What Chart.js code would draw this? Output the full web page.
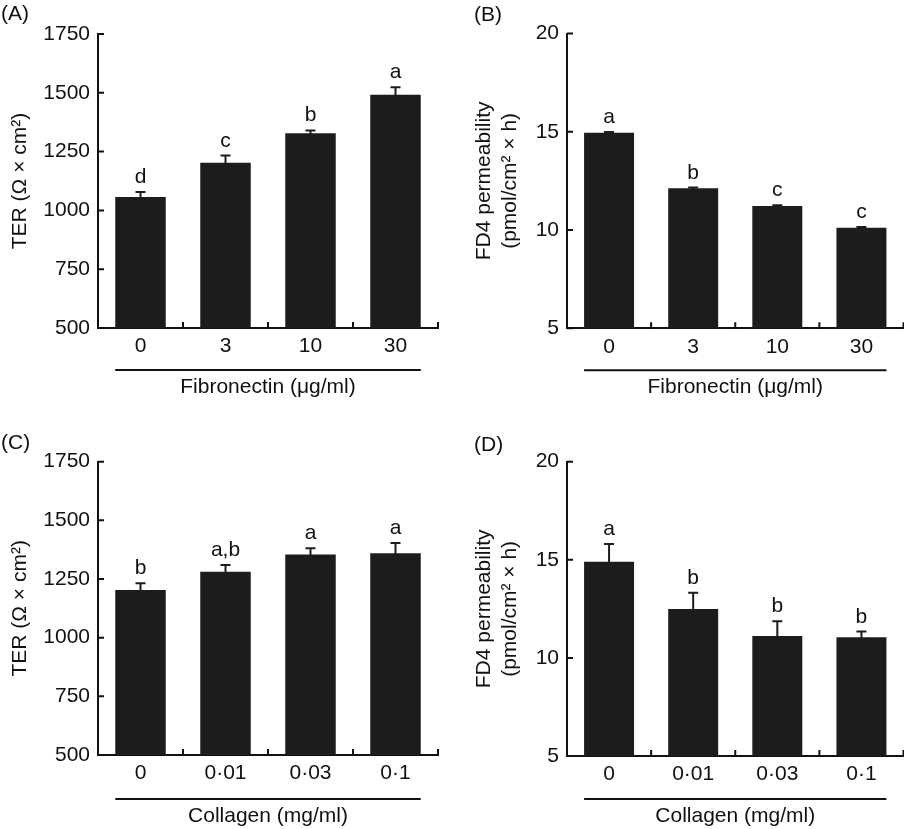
<!DOCTYPE html>
<html>
<head>
<meta charset="utf-8">
<script src="https://cdn.jsdelivr.net/npm/chart.js@4.4.0/dist/chart.umd.min.js"></script>
<style>
  html, body { margin: 0; padding: 0; background: #fff; }
  body { width: 904px; height: 829px; position: relative; overflow: hidden; }
  .panel { position: absolute; }
</style>
</head>
<body>
<div class="panel" style="left:0;top:0"><canvas id="chartA" width="452" height="410"></canvas></div>
<div class="panel" style="left:452px;top:0"><canvas id="chartB" width="452" height="410"></canvas></div>
<div class="panel" style="left:0;top:420px"><canvas id="chartC" width="452" height="409"></canvas></div>
<div class="panel" style="left:452px;top:420px"><canvas id="chartD" width="452" height="409"></canvas></div>
<script>
// categories
const fibronectinDoses = ["0", "3", "10", "30"];
const collagenDoses = ["0", "0·01", "0·03", "0·1"];

// TER (ohm x cm2), fibronectin
const terFibronectin = [1057, 1203, 1328, 1492];
const terFibronectinErr = [21, 30, 12, 32];
const terFibronectinLetters = ["d", "c", "b", "a"];

// FD4 permeability, fibronectin
const fd4Fibronectin = [14.95, 12.12, 11.22, 10.12];
const fd4FibronectinErr = [0.04, 0.04, 0.04, 0.04];
const fd4FibronectinLetters = ["a", "b", "c", "c"];

// TER, collagen
const terCollagen = [1203, 1281, 1354, 1360];
const terCollagenErr = [29, 29, 27, 43];
const terCollagenLetters = ["b", "a,b", "a", "a"];

// FD4 permeability, collagen
const fd4Collagen = [14.9, 12.49, 11.12, 11.05];
const fd4CollagenErr = [0.9, 0.83, 0.75, 0.29];
const fd4CollagenLetters = ["a", "b", "b", "b"];

// y axis ranges / ticks: min, max, step
const terAxis = [500, 1750, 250];
const fd4Axis = [5, 20, 5];

const ink = "#111";
const barColor = "#1e1b1c";
const FONT = "'Liberation Sans', Arial, Helvetica, sans-serif";
const FS = 21;
Chart.defaults.font.family = FONT;
Chart.defaults.font.size = FS;
Chart.defaults.color = ink;

// error bars, letters, inward ticks, underline, panel label
const barExtras = {
  id: "barExtras",
  afterDraw(chart, args, opts) {
    const ctx = chart.ctx;
    const area = chart.chartArea;
    const xs = chart.scales.x;
    const ys = chart.scales.y;
    const meta = chart.getDatasetMeta(0);
    ctx.save();
    ctx.strokeStyle = barColor;
    ctx.fillStyle = ink;
    ctx.lineWidth = 2;

    // error bars (upper only) and significance letters
    ctx.font = FS + "px " + FONT;
    ctx.textAlign = "center";
    ctx.textBaseline = "alphabetic";
    meta.data.forEach((bar, i) => {
      const p = bar.getProps(["x", "y", "width"], true);
      const top = ys.getPixelForValue(opts.values[i] + opts.err[i]);
      ctx.beginPath();
      ctx.moveTo(p.x, p.y + 1);
      ctx.lineTo(p.x, top);
      ctx.moveTo(p.x - 5, top);
      ctx.lineTo(p.x + 5, top);
      ctx.stroke();
      ctx.fillText(opts.letters[i], p.x, top - 9);
    });

    // inward ticks
    ctx.strokeStyle = ink;
    ctx.beginPath();
    ys.ticks.forEach((t, i) => {
      const y = ys.getPixelForTick(i);
      ctx.moveTo(area.left, y);
      ctx.lineTo(area.left + 6, y);
    });
    const n = xs.ticks.length;
    for (let i = 1; i <= n; i++) {
      const x = i < n
        ? (xs.getPixelForValue(i - 1) + xs.getPixelForValue(i)) / 2
        : area.right;
      ctx.moveTo(x, area.bottom);
      ctx.lineTo(x, area.bottom - 6);
    }
    ctx.stroke();

    // underline under the dose labels
    const first = meta.data[0].getProps(["x", "width"], true);
    const last = meta.data[meta.data.length - 1].getProps(["x", "width"], true);
    ctx.beginPath();
    ctx.moveTo(first.x - first.width / 2, area.bottom + opts.lineGap);
    ctx.lineTo(last.x + last.width / 2, area.bottom + opts.lineGap);
    ctx.stroke();

    // panel label
    ctx.textAlign = "left";
    ctx.textBaseline = "middle";
    ctx.fillText(opts.label, opts.labelX, opts.labelY);
    ctx.restore();
  }
};

function makeChart(id, spec) {
  const plot = spec.plot;
  const lh = spec.titleLines > 1 ? 26 : FS * 1.2;
  new Chart(document.getElementById(id), {
    type: "bar",
    data: {
      labels: spec.labels,
      datasets: [{
        data: spec.values,
        backgroundColor: barColor,
        borderWidth: 0,
        barPercentage: 0.594,
        categoryPercentage: 1
      }]
    },
    options: {
      responsive: false,
      animation: false,
      events: [],
      layout: {
        padding: { left: 0, top: plot.t, right: spec.w - plot.r, bottom: 0 }
      },
      plugins: {
        legend: { display: false },
        tooltip: { enabled: false },
        barExtras: {
          values: spec.values,
          err: spec.err,
          letters: spec.letters,
          lineGap: spec.lineGap,
          label: spec.label,
          labelX: spec.labelX,
          labelY: spec.labelY
        }
      },
      scales: {
        x: {
          grid: { display: false, drawTicks: false },
          border: { display: true, color: ink, width: 2 },
          ticks: { padding: 6, color: ink, font: { size: FS } },
          title: {
            display: true,
            text: spec.xTitle,
            color: ink,
            font: { size: FS },
            padding: { top: 0, bottom: spec.xTitlePad }
          },
          afterFit(scale) { scale.height = spec.h - plot.b; }
        },
        y: {
          min: spec.axis[0],
          max: spec.axis[1],
          grid: { display: false, drawTicks: false },
          border: { display: true, color: ink, width: 2 },
          ticks: {
            stepSize: spec.axis[2],
            padding: 8,
            color: ink,
            font: { size: FS },
            callback: (v) => String(v)
          },
          title: {
            display: true,
            text: spec.yTitle,
            color: ink,
            font: { size: FS, lineHeight: lh / FS },
            padding: { top: spec.yTitlePad, bottom: 0 }
          },
          afterFit(scale) { scale.width = plot.l; }
        }
      }
    },
    plugins: [barExtras]
  });
}

makeChart("chartA", {
  w: 452, h: 410, plot: { l: 98, t: 34, r: 438, b: 328 },
  labels: fibronectinDoses, values: terFibronectin, err: terFibronectinErr,
  letters: terFibronectinLetters, axis: terAxis,
  xTitle: "Fibronectin (μg/ml)", xTitlePad: 10,
  yTitle: "TER (Ω × cm²)", yTitlePad: 8, titleLines: 1,
  lineGap: 42, label: "(A)", labelX: 1, labelY: 14
});

makeChart("chartB", {
  w: 452, h: 410, plot: { l: 115, t: 33.5, r: 451.5, b: 328.3 },
  labels: fibronectinDoses, values: fd4Fibronectin, err: fd4FibronectinErr,
  letters: fd4FibronectinLetters, axis: fd4Axis,
  xTitle: "Fibronectin (μg/ml)", xTitlePad: 10,
  yTitle: ["FD4 permeability", "(pmol/cm² × h)"], yTitlePad: 19, titleLines: 2,
  lineGap: 42, label: "(B)", labelX: 22, labelY: 15
});

makeChart("chartC", {
  w: 452, h: 409, plot: { l: 98, t: 41.7, r: 438, b: 335 },
  labels: collagenDoses, values: terCollagen, err: terCollagenErr,
  letters: terCollagenLetters, axis: terAxis,
  xTitle: "Collagen (mg/ml)", xTitlePad: 0,
  yTitle: "TER (Ω × cm²)", yTitlePad: 8, titleLines: 1,
  lineGap: 44, label: "(C)", labelX: 1, labelY: 23
});

makeChart("chartD", {
  w: 452, h: 409, plot: { l: 115, t: 41.7, r: 451.5, b: 336 },
  labels: collagenDoses, values: fd4Collagen, err: fd4CollagenErr,
  letters: fd4CollagenLetters, axis: fd4Axis,
  xTitle: "Collagen (mg/ml)", xTitlePad: 0,
  yTitle: ["FD4 permeability", "(pmol/cm² × h)"], yTitlePad: 19, titleLines: 2,
  lineGap: 43, label: "(D)", labelX: 22, labelY: 25
});
</script>
</body>
</html>
